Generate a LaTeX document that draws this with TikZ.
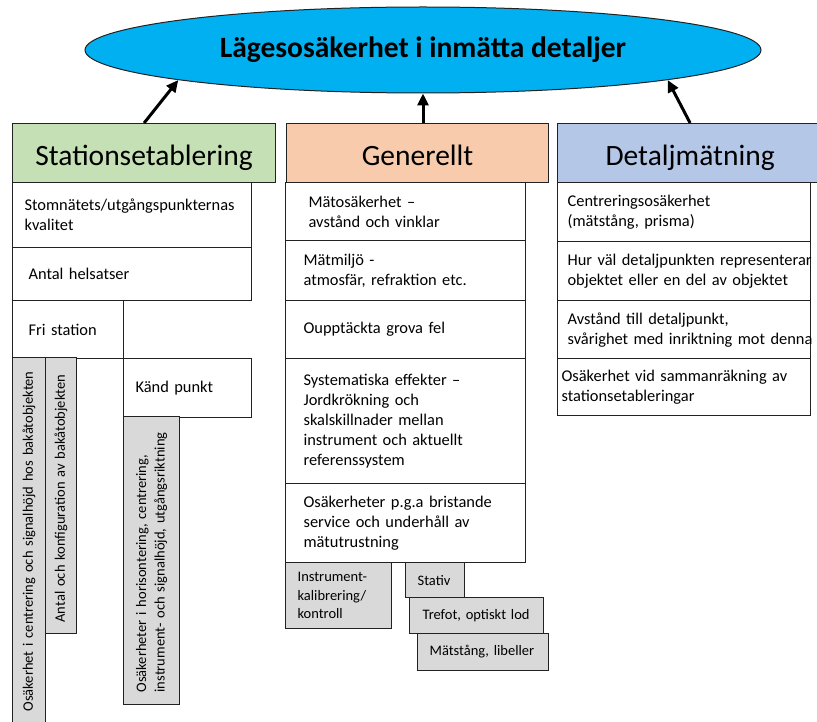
\documentclass[tikz,border=0pt]{standalone}
\usepackage{fontspec}
\setmainfont{Carlito}
\usetikzlibrary{shapes.geometric,arrows.meta}

\definecolor{boxline}{HTML}{222222}
\definecolor{topblue}{HTML}{00B0F0}
\definecolor{headgreen}{HTML}{C5E0B4}
\definecolor{headorange}{HTML}{F8CBAD}
\definecolor{headblue}{HTML}{B4C7E7}
\definecolor{boxgray}{HTML}{D9D9D9}

\hyphenpenalty=10000
\exhyphenpenalty=10000

\tikzset{
  box/.style={draw=boxline, line width=1.2pt, rectangle, anchor=north west, align=left,
    inner ysep=0pt, fill=white, font=\fontsize{16.4}{20}\selectfont},
  graybox/.style={box, fill=boxgray, font=\fontsize{14.5}{18.3}\selectfont},
  head/.style={draw=boxline, line width=1.2pt, rectangle, anchor=north west, inner sep=0pt,
    minimum height=59pt, text height=30pt, text depth=5pt, font=\fontsize{29.5}{34}\selectfont},
  up/.style={line width=3pt, draw=black, -{Triangle[length=12pt,width=11pt]}}
}

\begin{document}
\begin{tikzpicture}[x=1pt, y=-1pt]
  \useasboundingbox (0,0) rectangle (817,722);

  % top
  \node[ellipse, draw=boxline, line width=1pt, fill=topblue, minimum width=676pt, minimum height=86pt,
    font=\bfseries\fontsize{29.5}{34}\selectfont] (title) at (423,50) {Lägesosäkerhet i inmätta detaljer};

  % headers
  \node[head, fill=headgreen, minimum width=263pt] (stat) at (12,123) {Stationsetablering};
  \node[head, fill=headorange, minimum width=262pt] (gen) at (286,123) {Generellt};
  \node[head, fill=headblue, minimum width=265pt] (det) at (557,123) {Detaljmätning};

  \draw[up] (stat.north) -- (title.187);
  \draw[up] (title.south |- gen.north) -- (title.south);
  \draw[up] (det.north) -- (title.353);

  % Stationsetablering
  \node[box, inner xsep=12pt, text width=215pt, minimum height=65pt] (stom) at (12,182) {Stomnätets/utgångspunkternas\\kvalitet};
  \node[box, inner xsep=16pt, text width=207pt, minimum height=53pt] (helsats) at (12,247) {Antal helsatser};
  \node[box, inner xsep=16pt, text width=79pt, minimum height=58pt] (fri) at (12,300) {Fri station};
  \node[box, inner xsep=12pt, text width=104pt, minimum height=59pt] (kand) at (123,358) {Känd punkt};
  \node[graybox, rotate=90, inner xsep=14pt, text width=340pt, minimum height=33pt] (centr) at (12,726)
    {\mbox{Osäkerhet i centrering och signalhöjd hos bakåtobjekten}};
  \node[graybox, rotate=90, inner xsep=11pt, text width=254pt, minimum height=31pt] (konfig) at (45,634)
    {\mbox{Antal och konfiguration av bakåtobjekten}};
  \node[graybox, rotate=90, inner xsep=12pt, text width=264pt, minimum height=56pt] (horis) at (123,705)
    {\mbox{Osäkerheter i horisontering, centrering,}\\\mbox{instrument- och signalhöjd, utgångsriktning}};

  % Generellt
  \node[box, inner xsep=23pt, text width=194pt, minimum height=58pt] (matos) at (285,182) {Mätosäkerhet –\\avstånd och vinklar};
  \node[box, inner xsep=18pt, text width=204pt, minimum height=60pt] (miljo) at (285,240) {Mätmiljö -\\atmosfär, refraktion etc.};
  \node[box, inner xsep=18pt, text width=204pt, minimum height=58pt] (grova) at (285,300) {Oupptäckta grova fel};
  \node[box, inner xsep=18pt, text width=204pt, minimum height=125pt] (syst) at (285,358)
    {Systematiska effekter –\\Jordkrökning och\\skalskillnader mellan\\instrument och aktuellt\\referenssystem};
  \node[box, inner xsep=18pt, text width=204pt, minimum height=79pt] (service) at (285,483)
    {Osäkerheter p.g.a bristande\\service och underhåll av\\mätutrustning};
  \node[graybox, inner xsep=12pt, text width=82pt, minimum height=66pt] (kalib) at (285,562) {Instrument-\\kalibrering/\\kontroll};
  \node[graybox, inner xsep=12pt, text width=35pt, minimum height=35pt] (stativ) at (405,562) {\mbox{Stativ}};
  \node[graybox, inner xsep=13pt, text width=108pt, minimum height=36pt] (trefot) at (409,597) {\mbox{Trefot, optiskt lod}};
  \node[graybox, inner xsep=12pt, text width=107pt, minimum height=37pt] (stang) at (417,633) {\mbox{Mätstång, libeller}};

  % Detaljmätning
  \node[box, inner xsep=10pt, text width=233pt, minimum height=59pt] (centrosak) at (557,182) {Centreringsosäkerhet\\(mätstång, prisma)};
  \node[box, inner xsep=10pt, text width=233pt, minimum height=59pt] (hurval) at (557,241)
    {\mbox{Hur väl detaljpunkten representerar}\\objektet eller en del av objektet};
  \node[box, inner xsep=10pt, text width=233pt, minimum height=58pt] (avst) at (557,300)
    {Avstånd till detaljpunkt,\\\mbox{svårighet med inriktning mot denna}};
  \node[box, inner xsep=4pt, text width=245pt, minimum height=57pt] (samman) at (557,358)
    {Osäkerhet vid sammanräkning av\\stationsetableringar};
\end{tikzpicture}
\end{document}
